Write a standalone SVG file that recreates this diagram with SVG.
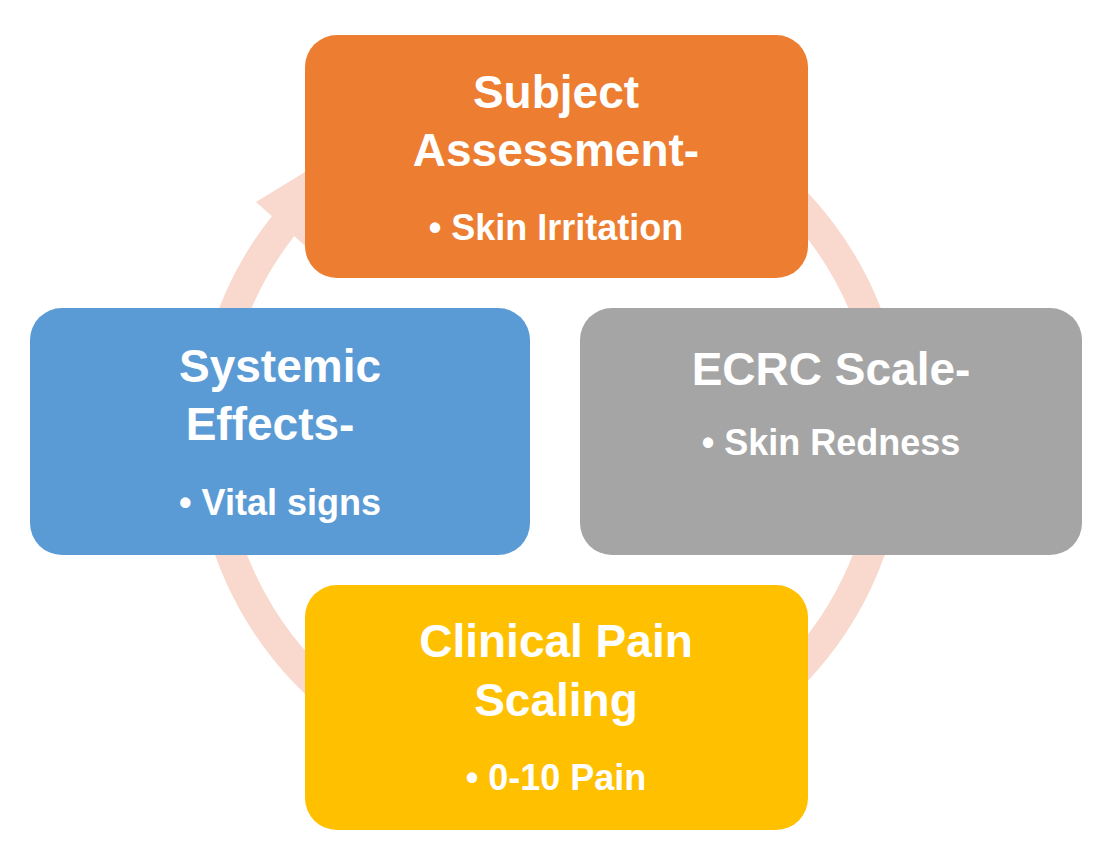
<svg xmlns="http://www.w3.org/2000/svg" width="1118" height="864" viewBox="0 0 1118 864">
<style>
.t{font-family:"Liberation Sans",Arial,sans-serif;font-weight:bold;fill:#fff;text-anchor:middle}
.h{font-size:46px}.b{font-size:36px}
</style>
<rect width="1118" height="864" fill="#fff"/>
<g id="connectors">
<path d="M726,146 A340,340 0 1 1 284,225" fill="none" stroke="#f9d9cd" stroke-width="30"/>
<polygon points="312,252 256,202 305,172" fill="#f9d9cd"/>
</g>
<g id="subject">
<rect x="305" y="35" width="503" height="243" rx="32" fill="#ed7d31"/>
<text class="t h" x="556" y="108">Subject</text>
<text class="t h" x="556" y="166">Assessment-</text>
<text class="t b" x="556" y="240">• Skin Irritation</text>
</g>
<g id="systemic">
<rect x="30" y="308" width="500" height="247" rx="32" fill="#5b9bd5"/>
<text class="t h" x="280" y="382">Systemic</text>
<text class="t h" x="270" y="440">Effects-</text>
<text class="t b" x="280" y="515">• Vital signs</text>
</g>
<g id="ecrc">
<rect x="580" y="308" width="502" height="247" rx="32" fill="#a5a5a5"/>
<text class="t h" x="831" y="385">ECRC Scale-</text>
<text class="t b" x="831" y="455">• Skin Redness</text>
</g>
<g id="clinical">
<rect x="305" y="585" width="503" height="245" rx="32" fill="#ffc000"/>
<text class="t h" x="556" y="657">Clinical Pain</text>
<text class="t h" x="556" y="716">Scaling</text>
<text class="t b" x="556" y="790">• 0-10 Pain</text>
</g>
</svg>
